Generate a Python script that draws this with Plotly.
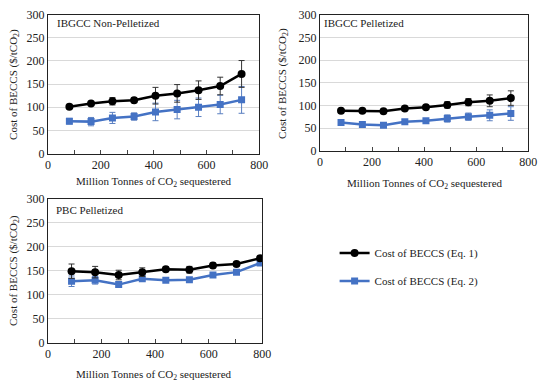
import plotly.graph_objects as go

# ---------------- data ----------------
x_ibgcc = [81, 163, 244, 326, 407, 489, 570, 652, 733]
x_pbc = [88, 176, 264, 352, 440, 528, 616, 704, 792]

# IBGCC Non-Pelletized
np_eq1 = [101, 108, 113, 115, 125, 130, 137, 146, 172]
np_eq1_err = [3, 4, 8, 5, 18, 19, 20, 19, 29]
np_eq2 = [70, 69, 77, 80, 90, 95, 100, 106, 116]
np_eq2_err = [6, 9, 12, 8, 19, 20, 20, 20, 29]

# IBGCC Pelletized
p_eq1 = [88, 88, 87, 93, 96, 101, 107, 110, 116]
p_eq1_err = [2, 2, 2, 3, 3, 7, 8, 13, 16]
p_eq2 = [62, 58, 56, 64, 66, 71, 75, 78, 82]
p_eq2_err = [3, 3, 3, 4, 4, 8, 8, 12, 15]

# PBC Pelletized
pbc_eq1 = [149, 147, 141, 147, 153, 152, 161, 164, 176]
pbc_eq1_err = [15, 12, 10, 9, 5, 7, 5, 4, 3]
pbc_eq2 = [128, 130, 121, 133, 130, 131, 141, 147, 166]
pbc_eq2_err = [11, 8, 5, 4, 3, 3, 3, 3, 3]

series_names = ["Cost of BECCS (Eq. 1)", "Cost of BECCS (Eq. 2)"]
panel_titles = ["IBGCC Non-Pelletized", "IBGCC Pelletized", "PBC Pelletized"]
x_ticks = [0, 200, 400, 600, 800]
y_ticks = [0, 50, 100, 150, 200, 250, 300]

BLACK = "#000000"
BLUE = "#4472C4"
FONT = "Liberation Serif"
W, H = 550, 391

fig = go.Figure()

panels = [
    (x_ibgcc, np_eq1, np_eq1_err, np_eq2, np_eq2_err, "x", "y"),
    (x_ibgcc, p_eq1, p_eq1_err, p_eq2, p_eq2_err, "x2", "y2"),
    (x_pbc, pbc_eq1, pbc_eq1_err, pbc_eq2, pbc_eq2_err, "x3", "y3"),
]

for i, (xs, e1, e1e, e2, e2e, xa, ya) in enumerate(panels):
    fig.add_trace(go.Scatter(
        x=xs, y=e2, mode="lines+markers", name=series_names[1],
        line=dict(color=BLUE, width=2.5),
        marker=dict(symbol="square", size=7, color=BLUE),
        error_y=dict(type="data", array=e2e, visible=True, color="#5a7fc0", thickness=1, width=3),
        xaxis=xa, yaxis=ya, showlegend=(i == 0), legendrank=2, legendgroup="eq2",
    ))
    fig.add_trace(go.Scatter(
        x=xs, y=e1, mode="lines+markers", name=series_names[0],
        line=dict(color=BLACK, width=2.5),
        marker=dict(symbol="circle", size=8, color=BLACK),
        error_y=dict(type="data", array=e1e, visible=True, color="#333333", thickness=1, width=3),
        xaxis=xa, yaxis=ya, showlegend=(i == 0), legendrank=1, legendgroup="eq1",
    ))

# plot-area pixel boxes (left, right, top, bottom)
boxes = [(46, 262, 8, 152), (324, 537, 8, 149), (46, 265, 199, 348)]

def px_dom_x(a, b):
    return [a / W, b / W]

def px_dom_y(t, b):
    return [(H - b) / H, (H - t) / H]

for i, (l, r, t, b) in enumerate(boxes):
    sfx = "" if i == 0 else str(i + 1)
    fig.layout["xaxis" + sfx] = dict(
        domain=px_dom_x(l, r), anchor="y" + sfx, range=[0, 800],
        tickvals=x_ticks, ticks="inside", ticklen=4, tickcolor="#444",
        minor=dict(ticks="inside", ticklen=4, dtick=100, tickcolor="#444"),
        showgrid=False, zeroline=False, showline=True, linecolor="#222", linewidth=1,
        mirror=True, tickfont=dict(family=FONT, size=12, color="#222"),
    )
    fig.layout["yaxis" + sfx] = dict(
        domain=px_dom_y(t, b), anchor="x" + sfx, range=[0, 300],
        tickvals=y_ticks, ticks="", showgrid=True, gridcolor="#d9d9d9", gridwidth=1,
        zeroline=False, showline=True, linecolor="#222", linewidth=1, mirror=True,
        tickfont=dict(family=FONT, size=12, color="#222"),
    )

annotations = []
ytitle = "Cost of BECCS ($/tCO<sub>2</sub>)"
xtitle = "Million Tonnes of CO<sub>2</sub> sequestered"
ytitle_pos = [(11, 80), (286, 79), (11, 273)]
xtitle_pos = [(154, 181), (431, 184), (154, 382)]
label_pos = [(53, 17), (326, 17), (52, 211)]
for i in range(3):
    yx, yy = ytitle_pos[i]
    annotations.append(dict(text=ytitle, x=yx / W, y=1 - yy / H, xref="paper", yref="paper",
                            textangle=-90, showarrow=False, xanchor="center", yanchor="middle",
                            font=dict(family=FONT, size=11, color="#222")))
    xx, xy = xtitle_pos[i]
    annotations.append(dict(text=xtitle, x=xx / W, y=1 - xy / H, xref="paper", yref="paper",
                            showarrow=False, xanchor="center", yanchor="middle",
                            font=dict(family=FONT, size=11, color="#222")))
    lx, ly = label_pos[i]
    annotations.append(dict(text=panel_titles[i], x=lx / W, y=1 - ly / H, xref="paper", yref="paper",
                            showarrow=False, xanchor="left", yanchor="middle",
                            font=dict(family=FONT, size=11, color="#222")))

fig.update_layout(
    width=W, height=H, margin=dict(l=0, r=0, t=0, b=0),
    paper_bgcolor="white", plot_bgcolor="white",
    annotations=annotations,
    legend=dict(x=339 / W, y=1 - 240 / H, xanchor="left", yanchor="top",
                font=dict(family=FONT, size=11, color="#222"),
                bgcolor="rgba(0,0,0,0)", tracegroupgap=9, itemwidth=30),
    font=dict(family=FONT),
)

fig.write_html("out.html", config={"displayModeBar": False},
               post_script="document.body.style.margin='0';")
